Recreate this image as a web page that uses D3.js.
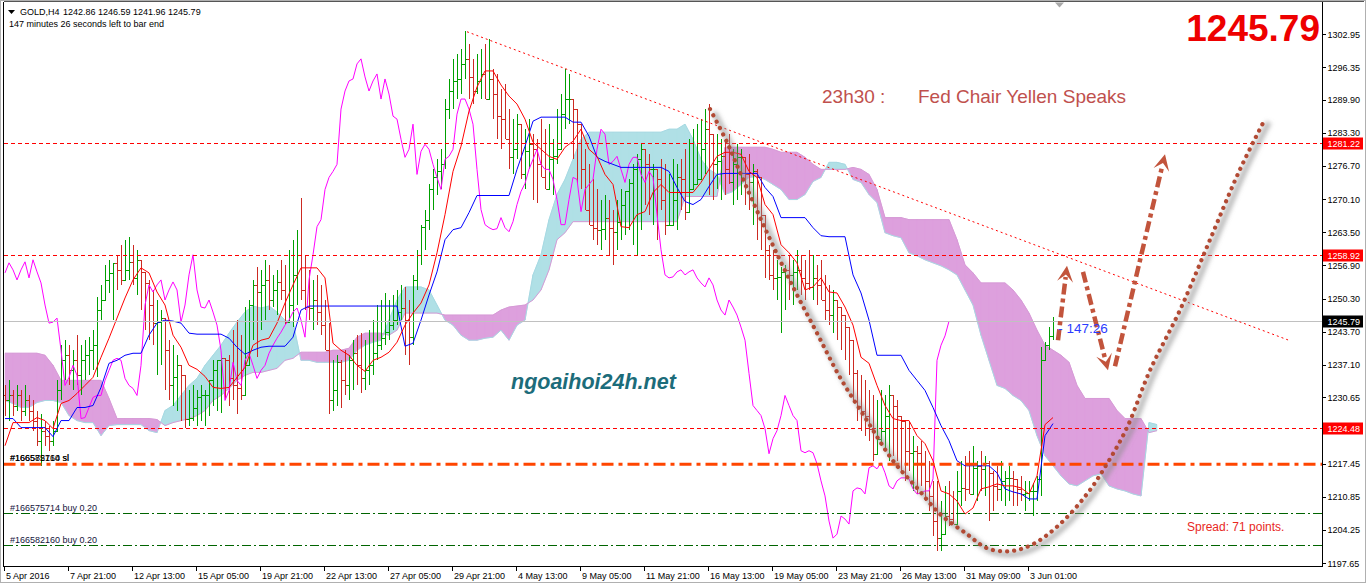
<!DOCTYPE html>
<html>
<head>
<meta charset="utf-8">
<script src="https://cdn.jsdelivr.net/npm/d3@7"></script>
<style>
  html, body { margin: 0; padding: 0; background: #fff; }
  svg { display: block; font-family: "Liberation Sans", Arial, sans-serif; }
</style>
</head>
<body>
<svg id="chart" width="1366" height="583"></svg>
<script>
// GOLD H4 bars (oldest first, 5 Apr -> 3 Jun 2016)
const barHigh = [
  1233,1234,1232,1233,1232,1233,1231,1230,1228,1227.4,1226,1225,1226,1234,1241,1242,
  1241,1240,1243,1241,1242,1242.6,1244,1250.6,1253,1257,1258,1257,1259,1261,1262,1262.6,
  1261,1260,1257,1255,1254,1252,1250,1248,1245,1242,1241,1239,1236,1234,1232,1233,
  1232,1233,1232,1234,1238,1237,1236,1238,1239,1244,1246,1243,1248.6,1250,1254,1256.6,
  1256,1258,1257,1255,1256,1258,1257,1260,1262,1264,1270.4,1259,1256,1254,1255,1253,
  1250,1245.4,1238,1239,1238,1240,1239,1242,1243,1243.4,1242,1244,1246,1249,1250,1251.4,
  1250,1251,1252,1253,1252.6,1250,1255,1260,1265,1268,1273,1276,1278,1280,1290,1294,
  1298,1299,1300,1303.6,1301,1298,1299,1300,1301,1302,1296,1295,1292,1293,1288,1286,
  1287,1285,1284,1286,1283,1282,1286,1284,1285,1282,1288,1291,1296,1295,1290,1287,
  1284,1280,1277,1274,1272,1270,1271,1270,1268,1270,1272,1271,1274,1277,1279,1281,
  1280,1279,1277,1276,1278,1277,1275,1278,1277,1278,1280,1282,1284,1285,1286,1288,
  1289,1282,1283,1282,1282,1283,1280,1281,1280,1278,1279,1277,1276,1270,1262,1261,
  1260,1258,1256.6,1257,1259,1258,1260,1259,1258,1260,1259,1257,1258,1255,1253,1252,
  1250,1248,1246,1244,1239,1236,1235,1234,1232,1231,1230,1232,1231,1233,1231,1230,
  1227,1224,1226,1223,1221,1222,1220,1218,1214,1214,1210,1213,1214,1212,1216,1218,
  1219,1220,1221,1218,1220,1219,1218,1216,1217,1218,1216,1217,1216,1214,1215,1214,
  1214,1213.6,1215,1240.6,1241.6,1244.6,1246.59
];
const barLow = [
  1227,1226,1227,1228,1226,1227,1226,1224,1221,1217,1221,1220,1221,1225,1230,1234,
  1233,1232,1233,1231,1234,1235,1236,1234.6,1246,1250,1251.4,1246,1252,1253,1255,1254,
  1253,1251,1248,1244,1242,1241,1235,1237,1232,1230,1229,1228,1226,1224.6,1225,1226,
  1225,1226,1225,1227,1229,1228,1227.6,1230,1229,1230,1227.4,1230,1236,1238,1242,1238.6,
  1244,1246,1248,1248.6,1247,1250,1245,1246,1244.6,1249,1250,1248,1246,1244,1245,1243,
  1240,1227.4,1228,1229,1228.6,1231,1230,1232,1233,1231.4,1232,1233,1235,1238,1240,1241,
  1242,1244,1245,1246,1239,1237,1241,1252,1257,1260,1264,1268,1271,1272,1276,1286,
  1288,1290,1291,1294,1290,1289,1291,1290,1292,1291,1286,1282,1280,1282,1276,1275,
  1278,1274,1272,1276,1270,1269.4,1275,1272,1273,1271,1277,1282,1284,1285,1278,1273,
  1272,1268,1265,1262,1261,1260,1262,1259,1257,1260,1262,1263,1264,1261,1259,1264,
  1269,1267,1265,1262,1268,1263,1265,1267,1264,1268,1266,1272,1273,1275,1276,1275,
  1271,1270,1272,1270,1271,1273,1269,1270,1271,1269,1268,1265,1262,1260,1254.4,1254,
  1252,1250,1243.4,1248,1250,1249,1252,1251,1250,1252,1250,1249,1250,1246,1245,1243.4,
  1242,1240,1238,1235,1230,1226,1224,1223,1222,1218,1220,1221,1220,1218,1219,1218,
  1216,1214,1216,1212,1211.4,1213,1210,1208,1203,1200,1200,1204,1205,1206,1208,1209,
  1210,1212,1213,1210,1212,1211,1206,1208,1210,1210,1209,1210,1209,1209,1210,1208,
  1210,1207,1210,1211,1238,1240,1241.96
];
const barClose = [
  1230,1231,1229,1231,1228,1230,1228,1226,1222,1224,1223,1222,1224,1232,1238,1239,
  1236,1238,1235,1238,1239,1240,1241,1248,1250,1254,1255.4,1257.4,1256,1254,1256,1257.6,
  1254.4,1258,1255.6,1253.4,1249,1245.4,1245.6,1246.4,1240,1233,1234.6,1237,1235,1226.4,1226.6,1228.6,
  1230.6,1231,1231,1234,1236,1238,1238.4,1238,1234.4,1233,1232.4,1231,1237,1249,1253,1251.6,
  1253,1254,1250,1252,1253.6,1252,1245.6,1249,1255,1259,1252,1248.6,1248.4,1250,1247.6,1245,
  1240,1230,1232,1237.6,1234,1233,1238,1239.4,1237,1234.4,1236,1237,1239.4,1241,1242.4,1243.6,
  1245,1246,1247.6,1248.4,1246,1242.6,1254,1259,1264.6,1266,1272,1274.4,1275.6,1277,1288,1291.6,
  1293.6,1294,1297,1298,1294.4,1291.6,1293.6,1295,1290,1294,1291,1286.6,1286,1282,1278.4,1280,
  1285,1275,1279.6,1281,1280,1277,1274.4,1272,1278,1278.6,1280,1287,1290,1290,1288,1285,
  1276,1268,1265,1264.4,1264,1264.2,1266.4,1264.4,1263.6,1265.6,1269,1271.6,1273.2,1276,1278,1280,
  1277,1276,1276,1274,1270,1265,1265,1270,1274.4,1274,1267.6,1272,1273,1274,1280,1284,
  1283,1277,1277.6,1278.6,1276,1273.4,1277,1278.4,1278.4,1275,1273.4,1275.6,1274.4,1267,1260,1255,
  1254.4,1254.6,1255.6,1256,1255,1255.6,1256,1254.4,1253.4,1252.6,1254.4,1253,1250,1248,1247,1250,
  1248.6,1247,1244.6,1242,1235.4,1229,1228,1227,1224.4,1219.4,1222.4,1224,1227,1231,1229,1227,
  1226,1220,1219.6,1220,1219.6,1217.4,1214,1211,1206,1202.6,1203.4,1207,1206.4,1205.4,1212,1212.6,
  1212.4,1211.4,1216.6,1217,1216.4,1217.6,1215.6,1213,1212.4,1214,1214.6,1214.6,1214.4,1212.4,1211.4,1211.6,
  1212,1212,1214.4,1238,1241,1242.86,1245.79
];
const firstOpen = 1231;

// Ichimoku lines, read every second bar
const tenkan = [
  1221,1225.6,1225.6,1225.6,1226.6,1226,1224.4,1229.4,1230,1231.4,
  1233,1234.6,1238.6,1242.4,1246.4,1250.4,1254,1256.4,1255.4,1251.6,
  1249,1243,1240.6,1237,1236.2,1234.8,1232.6,1232.4,1232.6,1234.6,
  1236.6,1241,1242,1242.4,1245.4,1249.4,1253,1256.4,1256.4,1256.4,
  1254.4,1241.4,1240,1239,1237,1235.8,1238,1238.6,1239.6,1241.6,
  1245,1247.4,1249.4,1253,1259.4,1267,1275.6,1280.6,1287.6,1292.4,
  1295.6,1295.6,1292.8,1290.6,1289,1286,1281.4,1280,1278.6,1278,
  1280.4,1281.6,1284,1280,1278.6,1275,1273,1264.6,1264.4,1267,
  1267.6,1271.4,1273,1271.4,1271.4,1271.4,1271.4,1273.4,1276,1278.6,
  1279.4,1279.4,1279,1275.6,1274.4,1269,1267,1261,1259.4,1257.4,
  1252,1252.6,1254.4,1251.6,1251.4,1248.6,1245,1238.6,1237.4,1233,
  1229,1226.4,1226,1226,1223,1221.4,1218,1212,1211.4,1210,
  1207.4,1208.6,1212.4,1212.8,1213.4,1213,1213,1212.6,1211.4,1215,
  1225.2,1226.6
];
const kijun = [
  1226.4,1226.4,1224.6,1224.6,1224.6,1224.6,1222.8,1226,1226,1228.6,
  1228.6,1229,1232.6,1237.4,1238,1239,1239.4,1239.4,1243,1245.4,
  1246,1245.8,1245.4,1243.4,1243.2,1243.2,1243.2,1243.2,1242.4,1240.6,
  1239.2,1240,1240.6,1240.8,1240.8,1240.8,1242.6,1248,1248.8,1248.8,
  1248.8,1248.8,1248.8,1248.8,1248.8,1248.8,1248.8,1248.8,1248.8,1248.8,
  1240.8,1241.4,1246,1251,1255.6,1262,1264,1264.4,1267.4,1270.8,
  1270.8,1270.8,1270.8,1270.8,1276,1280.6,1285.6,1286.4,1286.4,1286.4,
  1286.4,1285.4,1285.4,1282.6,1278.4,1277.6,1277,1276.4,1276.4,1276.4,
  1276.4,1276.4,1276.4,1275.6,1272.4,1269.6,1269,1270,1272.6,1275,
  1275.2,1275.2,1275.2,1275.2,1275.2,1272.4,1270.6,1266.4,1266.4,1266.4,
  1266.4,1264.4,1262.8,1262.6,1262.6,1262.6,1255,1251.4,1246,1239,
  1239,1239,1239,1236,1234,1232,1228.6,1225,1222,1218,
  1217,1217,1217,1217,1215.6,1212.4,1211.8,1211.4,1210.4,1210.4,
  1223,1225.4
];
// Senkou spans (already drawn 26 bars ahead), every second bar
const spanA = [
  1230,1229.4,1228.6,1228.6,1229.6,1230,1230,1229.6,1227,1226,
  1225.6,1225.6,1223,1225,1225.2,1225.2,1225.2,1225.2,1224,1223.6,
  1228,1229,1231,1233,1234.4,1237,1239,1241,1243.4,1245.6,
  1247.6,1248.8,1248.4,1248.8,1247.6,1246,1245.6,1238,1238,1237.6,
  1237.6,1237.6,1237.6,1238,1240,1241,1241.6,1242,1246,1250,
  1252.6,1252.6,1252.6,1252,1249,1246,1245,1243,1242,1242,
  1242.4,1242.6,1244,1242,1245,1246,1255,1259,1266,1271,
  1274,1278,1282,1283.4,1283.4,1283.4,1283.4,1283.4,1283.4,1283.4,
  1283.4,1283.4,1283.4,1284,1284,1285,1282,1278,1276,1275,
  1271,1271.6,1273,1274.4,1274.6,1274,1273,1272,1270,1270,
  1271,1273.6,1274.4,1277.4,1277.4,1277,1274,1273.4,1271,1269.4,
  1263.4,1262.8,1262.4,1259.4,1258.8,1258,1257.4,1256.8,1256,1255,
  1252,1249,1243,1238,1233,1232.4,1231,1230,1228,1223,
  1219,1217,1215,1213.4,1213,1214,1215,1215.4,1213,1212.4,
  1212,1211.4,1211,1225.6,1225.2
];
const spanB = [
  1239.4,1239.4,1239.4,1239.4,1239.4,1239,1237,1234,1234,1234,
  1234,1234,1234,1230.4,1226.4,1226.4,1226.4,1226.4,1226.4,1226.2,
  1225,1225.6,1226,1226.4,1227,1228,1230,1231,1232.4,1234,
  1235,1235.6,1235.6,1236,1236.4,1238,1238.4,1239.6,1239.6,1239.6,
  1239.6,1240,1240,1240.4,1242.6,1243.4,1243.4,1243.4,1243,1244,
  1247.4,1247.4,1247.4,1247.4,1247.4,1247,1247,1247,1247,1247,
  1247,1247,1248,1248.6,1248.8,1249,1250,1252,1256,1262,
  1263.4,1265.6,1265.6,1265.6,1265.6,1265.6,1265.6,1265.6,1265.6,1265.6,
  1265.6,1265.6,1265.6,1265.6,1265.6,1270.6,1270.6,1270.6,1270.6,1270.6,
  1280.4,1280.4,1280.4,1280.4,1280.4,1280.4,1280,1279.4,1279.4,1279.4,
  1278.4,1277,1276,1276,1276,1276,1276.4,1276,1275,1272,
  1266.4,1266.4,1266.4,1266,1266,1266,1266,1266,1266,1262,
  1257,1255.4,1253.4,1253.4,1253.4,1253.4,1252,1250,1247.4,1244,
  1241,1240,1239,1237.6,1233,1230.4,1230.4,1230.4,1230.4,1228,
  1226.4,1226.4,1226.4,1223.6,1224
];
const sampleStep = 2;
const chikouShift = 26;

// axis labels
const priceTicks = [1302.95,1296.35,1289.90,1283.30,1276.70,1270.10,1263.50,1256.90,1250.30,
  1243.70,1237.10,1230.65,1224.05,1217.45,1210.85,1204.25,1197.65];
const timeLabels = ['5 Apr 2016','7 Apr 21:00','12 Apr 13:00','15 Apr 05:00','19 Apr 21:00',
  '22 Apr 13:00','27 Apr 05:00','29 Apr 21:00','4 May 13:00','9 May 05:00','11 May 21:00',
  '16 May 13:00','19 May 05:00','23 May 21:00','26 May 13:00','31 May 09:00','3 Jun 01:00'];
const timeLabelEvery = 16;

// chart objects
const levelPrices = [1281.22, 1258.92, 1224.48];
const bidPrice = 1245.79;
const stopPrice = 1217.30;
const stopLabels = ['#166575714 sl', '#166582160 sl'];
const buyPrices = [1207.55, 1201.20];
const buyLabels = ['#166575714 buy 0.20', '#166582160 buy 0.20'];
const trendLine = [[115.5, 1303.4], [321.25, 1241.9]];
const forecastCurve = [[176.25,1288],[180.5,1281.4],[183.75,1275.4],[190.5,1263.4],[197,1252.6],
  [203,1243.4],[208.75,1234.6],[215.5,1226],[222,1218],[228,1212.6],[233.75,1207.4],[240.5,1203.4],
  [245.5,1200.6],[251.25,1200],[257,1201.4],[263.75,1205.4],[270.5,1211.4],[275.5,1217.4],
  [280.5,1224.6],[286.25,1236],[293.75,1248],[301.25,1262],[308.75,1276],[315,1286]];
const forecastArrows = [
  [[263.25, 1242], [265.5, 1256.8]],
  [[269.5, 1255.6], [275.75, 1236]],
  [[277.5, 1236.8], [290, 1279]]
];

// ---- scales ----
const width = 1366, height = 583;
const plotLeft = 3.5, plotRight = 1322.5, plotTop = 1.5, plotBottom = 566.5;
const x = d3.scaleLinear().domain([0, 329]).range([5, 1321]);
const y = d3.scaleLinear().domain([1197.65, 1302.95]).range([563, 34]);
const px = v => Math.round(v) + 0.5;

const svg = d3.select('#chart');
svg.append('rect').attr('width', width).attr('height', height).attr('fill', '#fff');

const defs = svg.append('defs');
defs.append('clipPath').attr('id', 'plotClip')
  .append('rect').attr('x', plotLeft).attr('y', plotTop)
  .attr('width', plotRight - plotLeft).attr('height', plotBottom - plotTop);
const blur = defs.append('filter').attr('id', 'soft').attr('x', '-20%').attr('y', '-20%')
  .attr('width', '140%').attr('height', '140%');
blur.append('feGaussianBlur').attr('stdDeviation', 2.2);

const plot = svg.append('g').attr('clip-path', 'url(#plotClip)');

// ---- kumo cloud ----
const cloud = spanA.map((a, k) => ({ i: k * sampleStep, a, b: spanB[k] }));
const pieces = [];
for (let k = 0; k < cloud.length - 1; k++) {
  const p = cloud[k], q = cloud[k + 1];
  const d0 = p.a - p.b, d1 = q.a - q.b;
  if (d0 * d1 < 0) {
    const t = d0 / (d0 - d1);
    const xi = p.i + t * (q.i - p.i), vi = p.a + t * (q.a - p.a);
    pieces.push({ up: d0 > 0, pts: [[p.i, p.a], [xi, vi], [p.i, p.b]] });
    pieces.push({ up: d1 > 0, pts: [[xi, vi], [q.i, q.a], [q.i, q.b]] });
  } else {
    pieces.push({ up: (d0 + d1) > 0, pts: [[p.i, p.a], [q.i, q.a], [q.i, q.b], [p.i, p.b]] });
  }
}
plot.append('g').selectAll('path')
  .data(pieces)
  .join('path')
  .attr('d', d => 'M' + d.pts.map(p => [x(p[0]), y(p[1])].join(',')).join('L') + 'Z')
  .attr('fill', d => d.up ? '#b0e0e6' : '#dda0dd')
  .attr('stroke', d => d.up ? '#b0e0e6' : '#dda0dd')
  .attr('stroke-width', 0.6);

const sampled = d3.line().x((d, k) => x(k * sampleStep)).y(d => y(d));
plot.append('path').attr('d', sampled(spanA))
  .attr('fill', 'none').attr('stroke', '#a6d8e2').attr('stroke-width', 1);
plot.append('path').attr('d', sampled(spanB))
  .attr('fill', 'none').attr('stroke', '#d69ad6').attr('stroke-width', 1);

// ---- OHLC bars ----
const bars = barClose.map((c, i) => ({
  i, o: i ? barClose[i - 1] : firstOpen, h: barHigh[i], l: barLow[i], c
}));
plot.append('g').attr('shape-rendering', 'crispEdges')
  .selectAll('path')
  .data(bars)
  .join('path')
  .attr('d', d => {
    const bx = px(x(d.i));
    const hi = Math.max(d.h, d.o, d.c), lo = Math.min(d.l, d.o, d.c);
    return `M${bx},${Math.round(y(hi))}V${Math.round(y(lo))}` +
      `M${bx - 2.5},${px(y(d.o))}H${bx}M${bx},${px(y(d.c))}H${bx + 2.5}`;
  })
  .attr('fill', 'none')
  .attr('stroke', d => d.c >= d.o ? '#00a000' : '#cc2a22')
  .attr('stroke-width', 1);

// ---- indicator lines ----
const chikou = barClose.slice(chikouShift);
plot.append('path')
  .attr('d', d3.line().x((d, k) => x(k)).y(d => y(d))(chikou))
  .attr('fill', 'none').attr('stroke', '#ff00ff').attr('stroke-width', 1);
plot.append('path').attr('d', sampled(kijun))
  .attr('fill', 'none').attr('stroke', '#0000ff').attr('stroke-width', 1);
plot.append('path').attr('d', sampled(tenkan))
  .attr('fill', 'none').attr('stroke', '#ff0000').attr('stroke-width', 1);

// ---- horizontal objects ----
const hLine = (price, color, dash, w) => plot.append('line')
  .attr('x1', plotLeft).attr('x2', plotRight)
  .attr('y1', px(y(price))).attr('y2', px(y(price)))
  .attr('stroke', color).attr('stroke-width', w || 1)
  .attr('stroke-dasharray', dash).attr('shape-rendering', 'crispEdges');

hLine(bidPrice, '#c0c0c0', null);
levelPrices.forEach(p => hLine(p, '#ff0000', '4,3'));
buyPrices.forEach(p => hLine(p, '#006400', '9,3,2,3'));
plot.append('line')
  .attr('x1', plotLeft).attr('x2', plotRight)
  .attr('y1', y(stopPrice)).attr('y2', y(stopPrice))
  .attr('stroke', '#ff4500').attr('stroke-width', 3)
  .attr('stroke-dasharray', '12,5,4,5');

// order labels
stopLabels.forEach(t => plot.append('text')
  .attr('x', 10).attr('y', y(stopPrice) - 3)
  .attr('font-size', 9).attr('fill', '#000').text(t));
buyLabels.forEach((t, k) => plot.append('text')
  .attr('x', 10).attr('y', y(buyPrices[k]) - 2)
  .attr('font-size', 9).attr('fill', '#14143c').text(t));

// trend line
plot.append('line')
  .attr('x1', x(trendLine[0][0])).attr('y1', y(trendLine[0][1]))
  .attr('x2', x(trendLine[1][0])).attr('y2', y(trendLine[1][1]))
  .attr('stroke', '#ff0000').attr('stroke-width', 1).attr('stroke-dasharray', '2,3');

// ---- drawn forecast ----
const curve = d3.line().x(d => x(d[0])).y(d => y(d[1])).curve(d3.curveCatmullRom);
plot.append('path').attr('d', curve(forecastCurve))
  .attr('transform', 'translate(4,3)')
  .attr('fill', 'none').attr('stroke', '#8c8c8c').attr('stroke-opacity', 0.55)
  .attr('stroke-width', 6).attr('filter', 'url(#soft)');
plot.append('path').attr('d', curve(forecastCurve))
  .attr('fill', 'none').attr('stroke', '#b24a34')
  .attr('stroke-width', 4.2).attr('stroke-linecap', 'round')
  .attr('stroke-dasharray', '0.1,7');

const arrowColor = '#c2543c';
forecastArrows.forEach(a => {
  const p0 = [x(a[0][0]), y(a[0][1])], p1 = [x(a[1][0]), y(a[1][1])];
  const dx = p1[0] - p0[0], dy = p1[1] - p0[1], len = Math.hypot(dx, dy);
  const ux = dx / len, uy = dy / len, nx = -uy, ny = ux;
  const headLen = 16, headW = 8;
  const shaftEnd = [p1[0] - ux * headLen * 0.7, p1[1] - uy * headLen * 0.7];
  plot.append('path')
    .attr('d', `M${p0}L${shaftEnd}`)
    .attr('fill', 'none').attr('stroke', arrowColor).attr('stroke-width', 4.5)
    .attr('stroke-dasharray', '11,4,4,4');
  const base = [p1[0] - ux * headLen, p1[1] - uy * headLen];
  const notch = [p1[0] - ux * headLen * 0.55, p1[1] - uy * headLen * 0.55];
  plot.append('path')
    .attr('d', `M${p1}L${base[0] + nx * headW},${base[1] + ny * headW}L${notch}` +
      `L${base[0] - nx * headW},${base[1] - ny * headW}Z`)
    .attr('fill', arrowColor);
});

// ---- frame ----
svg.append('rect').attr('x', 0.5).attr('y', 0.5).attr('width', width - 1).attr('height', height - 1)
  .attr('fill', 'none').attr('stroke', '#b0b0b0');
svg.append('path')
  .attr('d', `M${plotLeft},${plotTop}V${plotBottom}H${plotRight}V${plotTop}`)
  .attr('fill', 'none').attr('stroke', '#000').attr('shape-rendering', 'crispEdges');
svg.append('line').attr('x1', plotLeft).attr('x2', width - 2).attr('y1', plotTop).attr('y2', plotTop)
  .attr('stroke', '#555').attr('shape-rendering', 'crispEdges');

// chart shift marker
svg.append('path')
  .attr('d', `M${x(262.5)},${plotTop + 1}h9l-4.5,5Z`)
  .attr('fill', '#a8a8a8');

// ---- price axis ----
const axisG = svg.append('g');
axisG.selectAll('line.tick')
  .data(priceTicks)
  .join('line')
  .attr('class', 'tick')
  .attr('x1', plotRight).attr('x2', plotRight + 3)
  .attr('y1', d => px(y(d))).attr('y2', d => px(y(d)))
  .attr('stroke', '#000').attr('shape-rendering', 'crispEdges');
axisG.selectAll('text.tick')
  .data(priceTicks)
  .join('text')
  .attr('class', 'tick')
  .attr('x', plotRight + 5).attr('y', d => y(d) + 3.5)
  .attr('font-size', 9).attr('fill', '#000')
  .text(d => d.toFixed(2));

const tag = (price, bg) => {
  const ty = Math.round(y(price));
  axisG.append('rect')
    .attr('x', plotRight + 0.5).attr('y', ty - 5.5).attr('width', 40).attr('height', 12)
    .attr('fill', bg);
  axisG.append('text')
    .attr('x', plotRight + 5).attr('y', ty + 4)
    .attr('font-size', 9).attr('fill', '#fff').text(price.toFixed(2));
};
levelPrices.forEach(p => tag(p, '#ff0000'));
tag(bidPrice, '#000');

// ---- time axis ----
const timeG = svg.append('g');
timeLabels.forEach((t, k) => {
  const tx = px(x(k * timeLabelEvery)) - 1;
  timeG.append('line')
    .attr('x1', tx).attr('x2', tx).attr('y1', plotBottom).attr('y2', plotBottom + 4)
    .attr('stroke', '#000').attr('shape-rendering', 'crispEdges');
  timeG.append('text')
    .attr('x', tx + 1.5).attr('y', plotBottom + 12.5)
    .attr('font-size', 9).attr('fill', '#000').text(t);
});

// ---- header text ----
svg.append('path').attr('d', 'M8,10h7l-3.5,4Z').attr('fill', '#000');
svg.append('text').attr('x', 20).attr('y', 15).attr('font-size', 9).text('GOLD,H4');
svg.append('text').attr('x', 63).attr('y', 15).attr('font-size', 9)
  .text(bars[bars.length - 1].o.toFixed(2) + ' ' + barHigh[barHigh.length - 1].toFixed(2) + ' ' +
    barLow[barLow.length - 1].toFixed(2) + ' ' + barClose[barClose.length - 1].toFixed(2));
svg.append('text').attr('x', 9).attr('y', 27).attr('font-size', 9)
  .text('147 minutes 26 seconds left to bar end');

svg.append('text')
  .attr('x', 1320).attr('y', 41).attr('text-anchor', 'end')
  .attr('font-size', 37).attr('font-weight', 'bold').attr('fill', '#ee0000')
  .text(bidPrice.toFixed(2));

svg.append('text').attr('x', 822).attr('y', 103).attr('font-size', 19).attr('fill', '#c0504d')
  .text('23h30 :');
svg.append('text').attr('x', 918).attr('y', 103).attr('font-size', 19).attr('fill', '#c0504d')
  .text('Fed Chair Yellen Speaks');

svg.append('text').attr('x', 511).attr('y', 389)
  .attr('font-size', 21.5).attr('font-weight', 'bold').attr('font-style', 'italic')
  .attr('fill', '#1c6c7a').text('ngoaihoi24h.net');

svg.append('text').attr('x', 1187).attr('y', 531).attr('font-size', 12).attr('fill', '#e8281e')
  .text('Spread: 71 points.');

svg.append('text').attr('x', x(263.3)).attr('y', y(bidPrice) + 11.5)
  .attr('font-size', 13.5).attr('fill', '#2b3cff').text('- 147:26');
</script>
</body>
</html>
